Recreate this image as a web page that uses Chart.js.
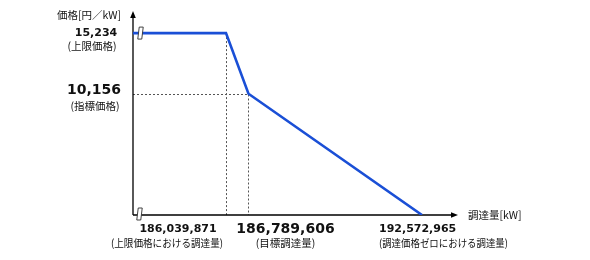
<!DOCTYPE html>
<html><head><meta charset="utf-8">
<script src="https://cdn.jsdelivr.net/npm/chart.js@4"></script>
<style>html,body{margin:0;padding:0;background:#fff}#wrap{width:590px;height:260px}</style>
</head><body><div id="wrap"><canvas id="c" width="590" height="260"></canvas></div>
<script>
// Data
const quantities = [186039871, 186789606, 192572965];      // kW
const prices = [15234, 10156, 0];                           // 円/kW
const quantityLabels = ['186,039,871', '186,789,606', '192,572,965'];
const quantityNotes = ['(上限価格における調達量)', '(目標調達量)', '(調達価格ゼロにおける調達量)'];
const priceLabels = ['15,234', '10,156'];
const priceNotes = ['(上限価格)', '(指標価格)'];
const xAxisMin = 182940000, xAxisMax = 193740000;
const yAxisMin = 0, yAxisMax = 17000;

const curve = [{x: xAxisMin, y: prices[0]}].concat(quantities.map((q, i) => ({x: q, y: prices[i]})));

const JP = '"Noto Sans CJK JP", "Noto Sans", sans-serif';
const NUM = '"DejaVu Sans", sans-serif';

const overlay = {
  id: 'overlay',
  beforeDatasetsDraw(chart) {
    const ctx = chart.ctx, xs = chart.scales.x, ys = chart.scales.y;
    const y0 = ys.getPixelForValue(0), left = chart.chartArea.left, top = chart.chartArea.top, right = chart.chartArea.right;
    ctx.save();
    ctx.strokeStyle = '#555'; ctx.lineWidth = 1; ctx.setLineDash([2, 2]);
    const px1 = Math.round(xs.getPixelForValue(quantities[0])) + 0.5;
    const px2 = Math.round(xs.getPixelForValue(quantities[1])) + 0.5;
    const py1 = ys.getPixelForValue(prices[0]);
    const py2 = Math.round(ys.getPixelForValue(prices[1])) + 0.5;
    ctx.beginPath();
    ctx.moveTo(px1, py1); ctx.lineTo(px1, y0);
    ctx.moveTo(px2, py2); ctx.lineTo(px2, y0);
    ctx.moveTo(left, py2); ctx.lineTo(px2, py2);
    ctx.stroke();
    ctx.setLineDash([]);
    ctx.strokeStyle = '#000'; ctx.lineWidth = 1.3;
    ctx.beginPath();
    ctx.moveTo(left, y0); ctx.lineTo(left, top + 2);
    ctx.moveTo(left, y0); ctx.lineTo(right - 2, y0);
    ctx.stroke();
    ctx.fillStyle = '#000';
    ctx.beginPath(); ctx.moveTo(left, top - 1); ctx.lineTo(left - 2.8, top + 6); ctx.lineTo(left + 2.8, top + 6); ctx.closePath(); ctx.fill();
    ctx.beginPath(); ctx.moveTo(right + 1, y0); ctx.lineTo(right - 6, y0 - 2.8); ctx.lineTo(right - 6, y0 + 2.8); ctx.closePath(); ctx.fill();
    ctx.restore();
  },
  afterDatasetsDraw(chart) {
    const ctx = chart.ctx, xs = chart.scales.x, ys = chart.scales.y;
    const y0 = ys.getPixelForValue(0), left = chart.chartArea.left, right = chart.chartArea.right;
    ctx.save();
    function brk(cx, cy) {
      ctx.save();
      ctx.translate(cx, cy);
      ctx.transform(1, 0, -0.12, 1, 0, 0);
      ctx.fillStyle = '#fff'; ctx.strokeStyle = '#333'; ctx.lineWidth = 0.9;
      ctx.beginPath();
      ctx.rect(-2, -6, 4, 12);
      ctx.fill(); ctx.stroke();
      ctx.restore();
    }
    brk(left + 7.5, ys.getPixelForValue(prices[0]));
    brk(left + 6.5, y0 - 1);
    ctx.fillStyle = '#111'; ctx.textBaseline = 'middle';
    ctx.textAlign = 'right';
    ctx.font = '10.5px ' + JP; ctx.fillText('価格[円／kW]', left - 12, 15);
    ctx.textAlign = 'center';
    const cxL = 95;
    ctx.font = 'bold 11px ' + NUM; ctx.fillText(priceLabels[0], cxL + 1, ys.getPixelForValue(prices[0]));
    ctx.font = '10.5px ' + JP; ctx.fillText(priceNotes[0], cxL - 3, ys.getPixelForValue(prices[0]) + 13);
    ctx.font = 'bold 14px ' + NUM; ctx.fillText(priceLabels[1], cxL - 1, ys.getPixelForValue(prices[1]) - 3);
    ctx.font = '10.5px ' + JP; ctx.fillText(priceNotes[1], cxL, ys.getPixelForValue(prices[1]) + 12);
    const p = quantities.map(q => xs.getPixelForValue(q));
    const yn = y0 + 14, ys2 = y0 + 28;
    ctx.font = 'bold 11px ' + NUM; ctx.fillText(quantityLabels[0], p[0] - 48, yn);
    ctx.font = '10.5px ' + JP; ctx.fillText(quantityNotes[0], p[0] - 59, ys2, 112);
    ctx.font = 'bold 14px ' + NUM; ctx.fillText(quantityLabels[1], p[1] + 37, yn);
    ctx.font = '10.5px ' + JP; ctx.fillText(quantityNotes[1], p[1] + 37, ys2);
    ctx.textAlign = 'left';
    ctx.font = 'bold 11px ' + NUM; ctx.fillText(quantityLabels[2], p[2] - 43, yn);
    ctx.font = '10.5px ' + JP; ctx.fillText(quantityNotes[2], p[2] - 43, ys2, 129);
    ctx.font = '10.5px ' + JP; ctx.fillText('調達量[kW]', right + 11, y0);
    ctx.restore();
  }
};

new Chart(document.getElementById('c'), {
  type: 'line',
  data: { datasets: [{ data: curve, borderColor: '#1a4fd6', borderWidth: 2.6, pointRadius: 0, tension: 0, fill: false }] },
  options: {
    responsive: false, animation: false, devicePixelRatio: 1,
    layout: { padding: { left: 133, right: 133, top: 12, bottom: 45 } },
    plugins: { legend: { display: false }, tooltip: { enabled: false } },
    scales: {
      x: { type: 'linear', display: false, min: xAxisMin, max: xAxisMax },
      y: { type: 'linear', display: false, min: yAxisMin, max: yAxisMax }
    }
  },
  plugins: [overlay]
});
</script></body></html>
